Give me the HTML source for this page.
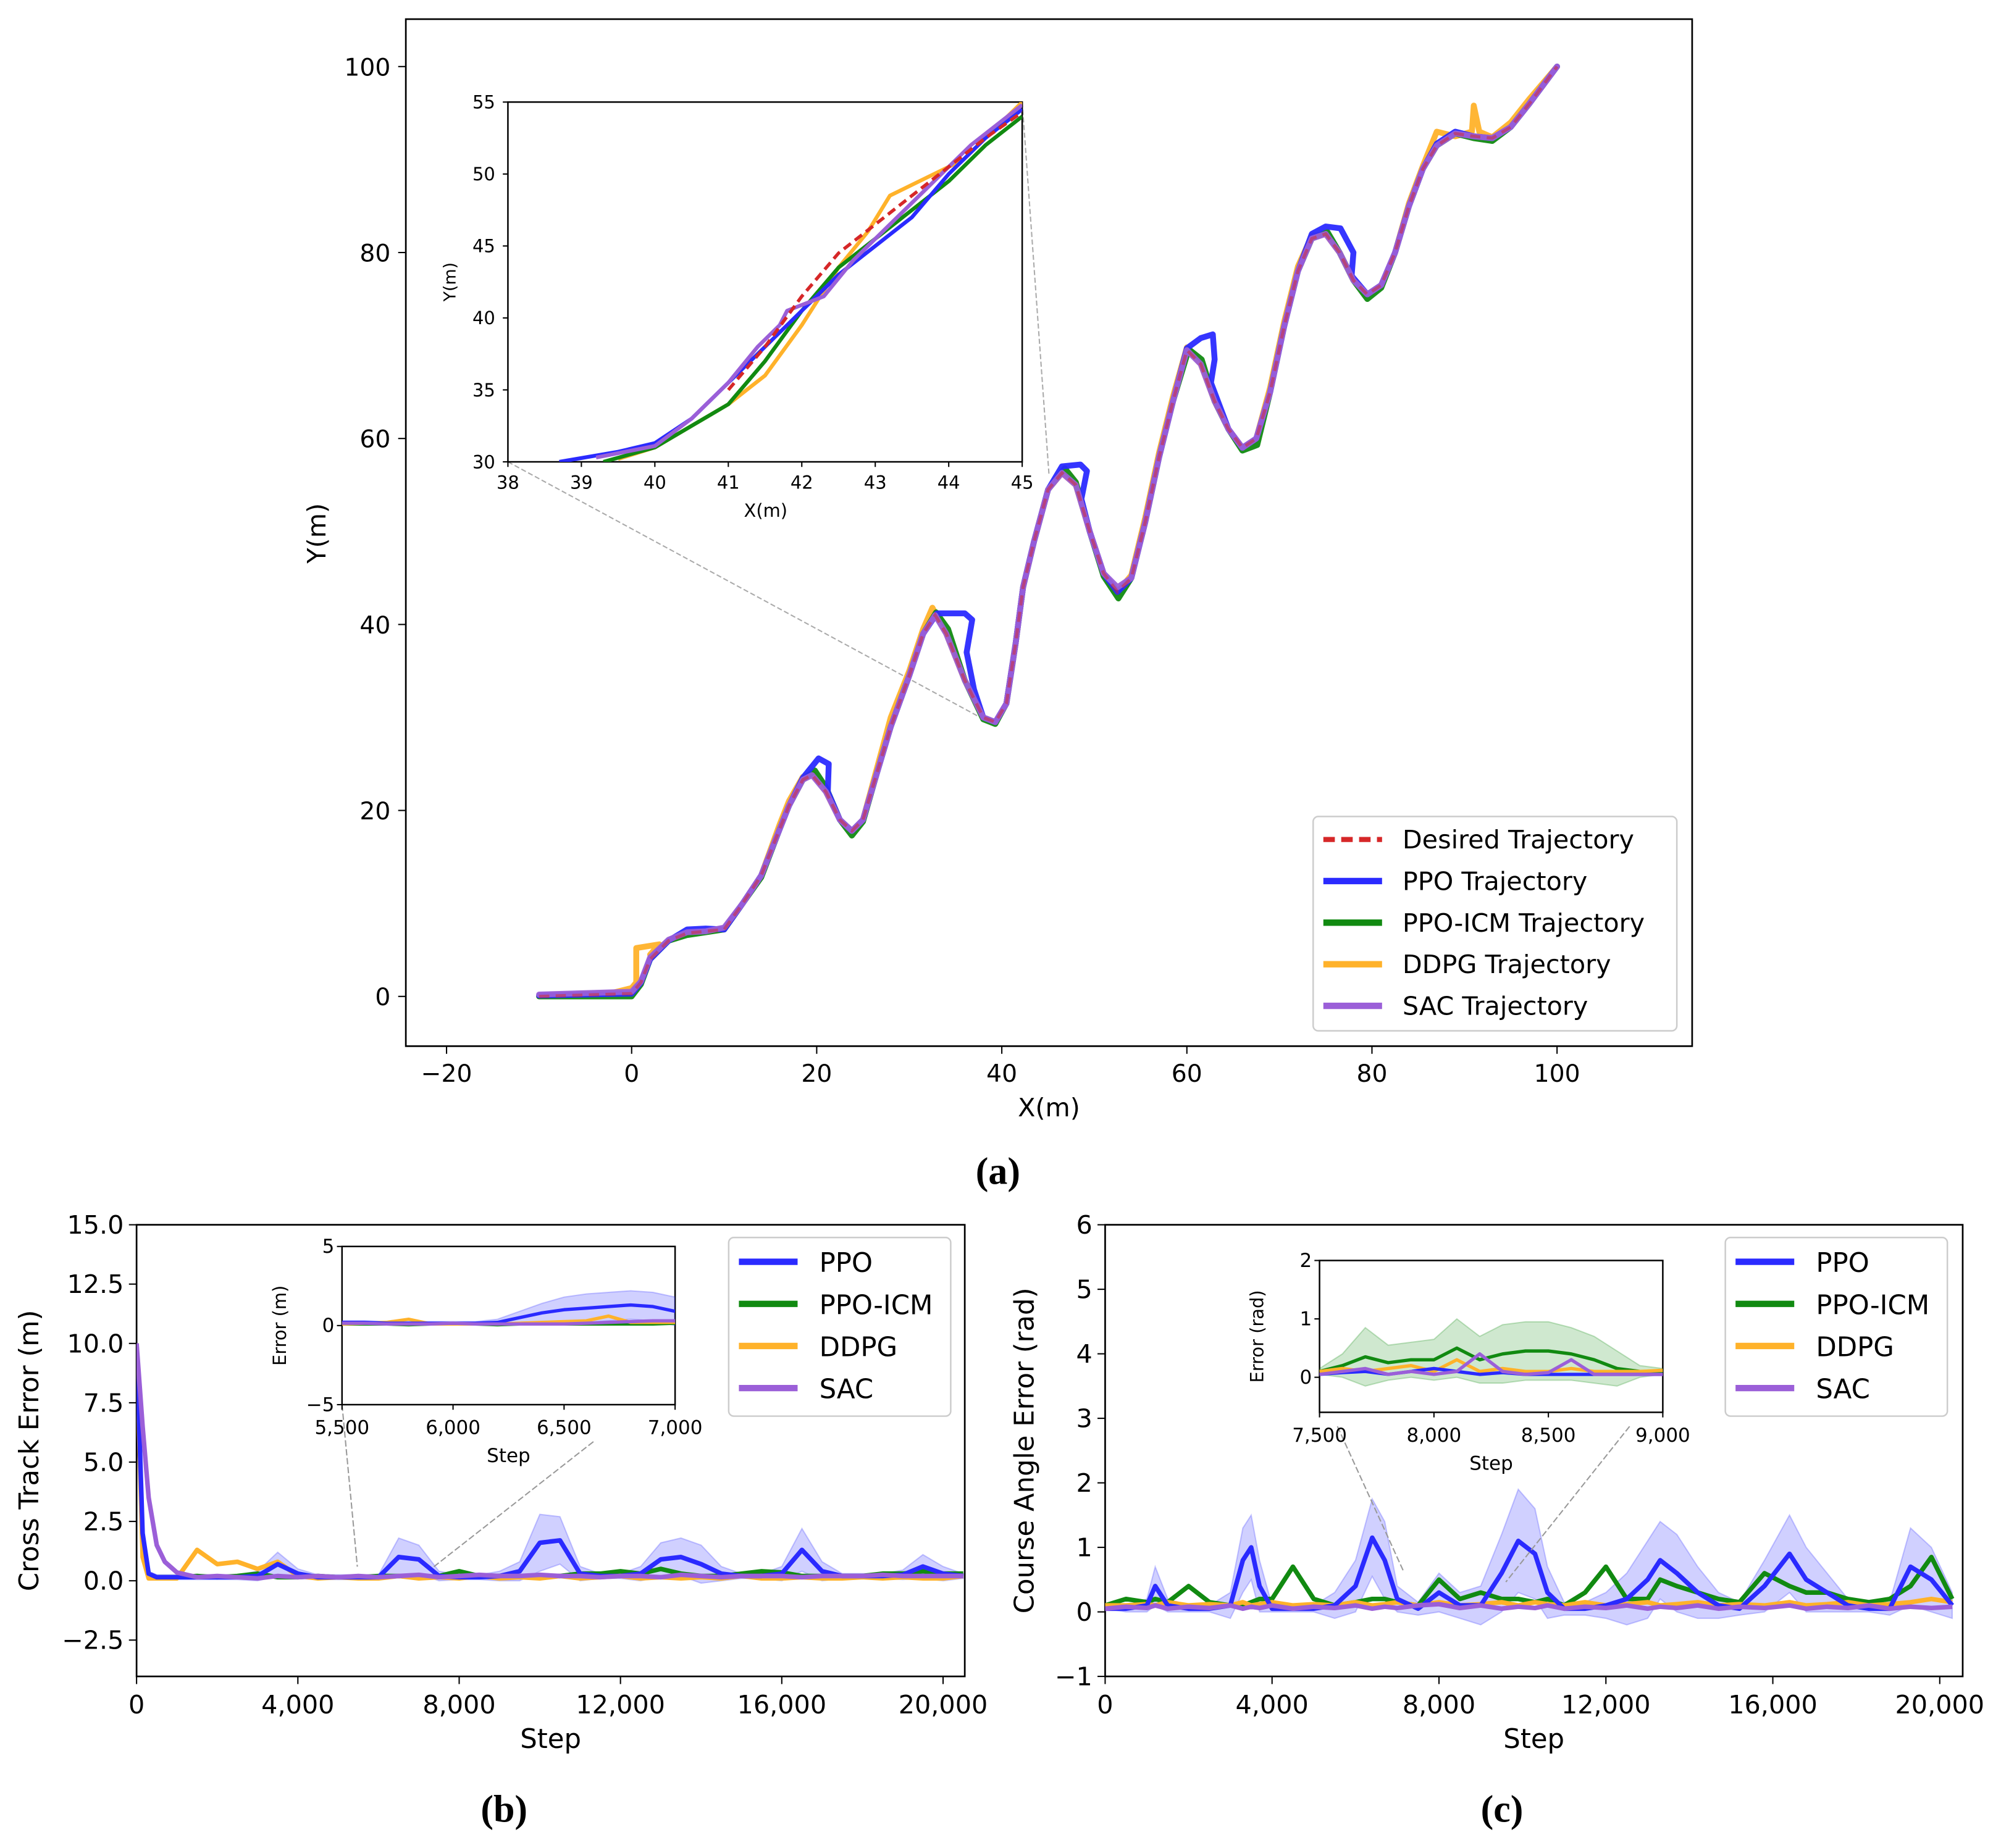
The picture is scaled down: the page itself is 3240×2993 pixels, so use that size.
<!DOCTYPE html>
<html><head><meta charset="utf-8"><style>
html,body{margin:0;padding:0;background:#fff;}
svg{display:block;}
text{font-family:"DejaVu Sans","Liberation Sans",sans-serif;fill:#000;}
text.cap{font-family:"Liberation Serif",serif;font-weight:bold;}
</style></head><body>
<svg id="fig" xmlns="http://www.w3.org/2000/svg" width="3240" height="2993" viewBox="0 0 1568 1448.5"></svg>
<script>
// ===== Panel (a) data =====
const desiredPts=[[-10,0],[0,0.3],[1,1.5],[2,4],[4,6],[6,6.8],[8,7],[10,7.2],[12,10],[14,13],[16,18],[17,20.5],[18.5,23.3],[19.5,23.8],[21,22],[22.5,19],[23.8,17.8],[25,19],[26.5,24],[28,29],[30,34.5],[31.5,39],[32.8,41],[34,39],[36,34],[38,30],[39.3,29.5],[40.5,31.5],[41.5,38],[42.3,44],[43.5,49],[45,54.5],[46.5,56.3],[48,55],[49.5,50],[51,45.5],[52.5,43.5],[54,45],[55.5,51],[57,58],[58.5,64],[60,69.5],[61.5,68],[63,64],[64.5,61],[66,59],[67.5,60],[69,65],[70.5,72],[72,78],[73.5,81.5],[75,82],[76.5,80],[78,77],[79.5,75.5],[81,76.5],[82.5,80],[84,85],[85.5,89],[87,91.5],[89,92.8],[91,92.5],[93,92.3],[95,93.5],[97,96],[100,100]];
const ppoPts=[[-10,0.1],[0,0.3],[1,1.5],[2,4],[4,6],[6,7.2],[8,7.3],[10,7.2],[12,10],[14,13],[16,18],[17,20.5],[18.5,23.5],[20.2,25.6],[21.3,25],[21.2,22],[22.5,19],[23.8,17.8],[25,19],[26.5,24],[28,29],[30,34.5],[31.5,39],[33,41.2],[36,41.2],[36.8,40.5],[36.2,37],[37,33],[38,30],[39.3,29.5],[40.5,31.5],[41.5,38],[42.3,44],[43.5,49],[45,54.5],[46.5,57],[48.5,57.2],[49.2,56.5],[48.6,53.5],[49.5,50],[51,45.5],[52.5,43.5],[54,45],[55.5,51],[57,58],[58.5,64],[60,69.7],[61.5,70.8],[62.8,71.2],[63,68.5],[62.6,66],[64.5,61],[66,59],[67.5,60],[69,65],[70.5,72],[72,78],[73.5,82],[75,82.8],[76.6,82.6],[78,80],[77.8,77.5],[79.5,75.5],[81,76.5],[82.5,80],[84,85],[85.5,89],[87,91.7],[89,93],[91,92.5],[93,92.3],[95,93.5],[97,96],[100,100]];
const icmPts=[[-10,0],[0,0],[1,1.3],[2,4],[4,6],[6,6.6],[8,6.9],[10,7.2],[12,10],[14,12.8],[16,18],[17,20.5],[18.5,23.3],[19.8,24.3],[21,22.5],[22.5,19],[23.8,17.3],[25,18.8],[26.5,24],[28,29],[30,34.5],[31.5,39],[32.9,41.3],[34.2,39.5],[36,34],[38,29.8],[39.3,29.3],[40.5,31.5],[41.5,38],[42.3,44],[43.5,49],[45,54.5],[46.8,56.8],[48,55.3],[49.5,50],[51,45.2],[52.6,42.8],[54,45],[55.5,51],[57,58],[58.5,64],[60.2,69.6],[61.6,68.5],[63,64],[64.5,61],[66,58.7],[67.6,59.3],[69,65],[70.5,72],[72,78],[73.5,81.5],[75.2,82.2],[76.5,80],[78,77],[79.5,75],[81,76.2],[82.5,80],[84,85],[85.5,89],[87,91.5],[89,92.8],[91,92.3],[93,92],[95,93.5],[97,96],[100,100]];
const ddpgPts=[[-10,0],[-2,0.4],[0,0.9],[0.5,1.5],[0.5,5.2],[3,5.6],[2,4.5],[4,6],[6,6.8],[8,7],[10,7.2],[12,10],[14,13],[16,18.5],[17,21],[18.5,23.6],[19.5,24],[21,22],[22.5,19],[23.8,17.8],[25,19],[26.5,24.5],[28,30],[30,35],[31.5,39.5],[32.5,41.8],[34,39],[36,34],[38,30],[39.3,29.5],[40.5,31.5],[41.5,38],[42.3,44],[43.5,49],[45,54.5],[46.5,56.3],[48,55],[49.5,50],[51,45.5],[52.5,43.5],[54,45.3],[55.5,51.5],[57,58.5],[58.5,64.5],[60,69.8],[61.5,68],[63,64],[64.5,61],[66,59],[67.5,60],[69,65.5],[70.5,72.5],[72,78.5],[73.5,81.8],[75,82],[76.5,80],[78,77],[79.5,75.5],[81,76.5],[82.5,80],[84,85.3],[85.5,89.3],[87,93],[89,92.5],[90.8,93],[91,95.8],[91.6,93],[93,92.4],[95,94],[97,96.5],[100,100]];
const sacPts=[[-10,0.2],[0,0.5],[1,1.6],[2,4.2],[4,6.1],[6,6.9],[8,7],[10,7.4],[12,10],[14,13],[16,18],[17,20.5],[18.5,23.3],[19.5,23.8],[21,22],[22.5,19],[23.8,17.8],[25,19],[26.5,24],[28,29],[30,34.5],[31.5,39],[32.8,41],[34,39],[36,34],[38,30],[39.3,29.5],[40.5,31.5],[41.5,38],[42.3,44],[43.5,49],[45,54.5],[46.5,56.3],[48,55],[49.5,50],[51,45.5],[52.5,44],[54,45],[55.5,51],[57,58],[58.5,64],[60,69.5],[61.5,68],[63,64],[64.5,61],[66,59],[67.5,60],[69,65],[70.5,72],[72,78],[73.5,81.5],[75,82],[76.5,80],[78,77],[79.5,75.5],[81,76.5],[82.5,80],[84,85],[85.5,89],[87,91.5],[89,92.8],[91,92.5],[93,92.3],[95,93.5],[97,96],[100,100]];
const zoomDesired=[[41,35],[41.5,38],[42,41.5],[42.5,44.5],[43,46.5],[43.5,48.5],[44,50.5],[44.5,52.5],[45,54.3]];
const zoomPpo=[[38.7,30],[39.5,30.7],[40,31.3],[40.5,33],[41,35.5],[41.5,38],[42,40.5],[42.5,43],[43,45],[43.5,47],[44,50],[44.5,52.5],[45,54.5]];
const zoomIcm=[[39.3,30],[40,31],[40.5,32.5],[41,34],[41.5,37],[42,40.5],[42.5,43.5],[43,45.5],[43.5,47.5],[44,49.5],[44.5,52],[45,54]];
const zoomDdpg=[[39.5,30.2],[40,31],[40.5,32.5],[41,34],[41.5,36],[42,39.5],[42.5,43.5],[42.9,46],[43.2,48.5],[43.6,49.5],[44.2,51],[44.7,53.5],[45,55]];
const zoomSac=[[39.2,30.3],[40,31.1],[40.5,33],[41,35.5],[41.4,38],[41.7,39.5],[41.8,40.5],[42.3,41.5],[42.7,44],[43,45.5],[43.3,47],[43.8,49.5],[44.3,52],[45,54.8]];
const mainXTicks=[-20,0,20,40,60,80,100];
const mainYTicks=[0,20,40,60,80,100];
const zoomXTicks=[38,39,40,41,42,43,44,45];
const zoomYTicks=[30,35,40,45,50,55];

// ===== Panel (b) data =====
const cteSteps=[0,150,300,500,700,1000,1500,2000,2500,3000,3500,4000,4500,5000,5500,6000,6500,7000,7500,8000,8500,9000,9500,10000,10500,11000,11500,12000,12500,13000,13500,14000,14500,15000,15500,16000,16500,17000,17500,18000,18500,19000,19500,20000,20500];
const ctePpo=[10,2,0.3,0.15,0.15,0.15,0.15,0.15,0.15,0.2,0.7,0.3,0.15,0.15,0.15,0.15,1.0,0.9,0.2,0.15,0.15,0.2,0.4,1.6,1.7,0.3,0.2,0.2,0.3,0.9,1.0,0.7,0.3,0.2,0.2,0.3,1.3,0.4,0.2,0.2,0.2,0.25,0.6,0.3,0.2];
const ctePpoSpread=[0,0.3,0.1,0.1,0.1,0.1,0.1,0.1,0.1,0.2,0.5,0.2,0.1,0.1,0.1,0.1,0.8,0.6,0.2,0.1,0.1,0.2,0.4,1.2,1.0,0.3,0.1,0.1,0.3,0.7,0.8,0.8,0.3,0.1,0.1,0.3,0.9,0.4,0.1,0.1,0.1,0.2,0.5,0.3,0.1];
const cteIcm=[10,1.5,0.2,0.15,0.15,0.15,0.2,0.15,0.2,0.3,0.15,0.15,0.2,0.15,0.15,0.2,0.2,0.15,0.2,0.4,0.2,0.2,0.15,0.2,0.2,0.3,0.3,0.4,0.3,0.5,0.3,0.2,0.2,0.3,0.4,0.35,0.2,0.2,0.2,0.2,0.3,0.3,0.4,0.3,0.3];
const cteDdpg=[10,1,0.1,0.1,0.1,0.1,1.3,0.7,0.8,0.5,0.8,0.2,0.1,0.15,0.1,0.1,0.2,0.1,0.15,0.1,0.2,0.1,0.15,0.1,0.2,0.1,0.15,0.2,0.1,0.15,0.1,0.15,0.1,0.2,0.1,0.1,0.15,0.1,0.1,0.15,0.1,0.15,0.1,0.1,0.2];
const cteSac=[10,6.5,3.5,1.5,0.8,0.35,0.15,0.2,0.15,0.1,0.2,0.15,0.2,0.15,0.2,0.15,0.2,0.25,0.15,0.2,0.25,0.2,0.2,0.25,0.2,0.2,0.15,0.2,0.2,0.15,0.25,0.2,0.15,0.2,0.2,0.2,0.15,0.2,0.2,0.2,0.25,0.2,0.2,0.2,0.2];
const cteZoomSteps=[5500,5600,5700,5800,5900,6000,6100,6200,6300,6400,6500,6600,6700,6800,6900,7000];
const cteZoomPpo=[0.2,0.2,0.15,0.15,0.15,0.15,0.15,0.2,0.5,0.8,1.0,1.1,1.2,1.3,1.2,0.9];
const cteZoomPpoSpread=[0.1,0.1,0.1,0.1,0.1,0.1,0.1,0.2,0.4,0.6,0.8,0.9,0.9,0.9,0.9,0.9];
const cteZoomIcm=[0.1,0.1,0.1,0.05,0.1,0.1,0.1,0.05,0.1,0.1,0.1,0.1,0.1,0.1,0.1,0.15];
const cteZoomDdpg=[0.1,0.15,0.2,0.4,0.1,0.1,0.1,0.1,0.15,0.2,0.25,0.3,0.6,0.2,0.2,0.2];
const cteZoomSac=[0.15,0.15,0.1,0.1,0.1,0.15,0.1,0.1,0.1,0.1,0.1,0.15,0.2,0.25,0.3,0.3];
const cteYTicks=[-2.5,0,2.5,5,7.5,10,12.5,15];
const stepTicks=[0,4000,8000,12000,16000,20000];

// ===== Panel (c) data =====
const caeSteps=[0,500,1000,1200,1500,2000,2500,3000,3300,3500,3700,4000,4500,5000,5500,6000,6400,6700,7000,7500,8000,8500,9000,9500,9900,10300,10600,11000,11500,12000,12500,13000,13300,13700,14200,14700,15200,15800,16400,16800,17300,17800,18300,18800,19300,19800,20300];
const caePpo=[0.05,0.05,0.1,0.4,0.1,0.05,0.05,0.1,0.8,1.0,0.4,0.05,0.05,0.05,0.1,0.4,1.15,0.8,0.2,0.05,0.3,0.1,0.1,0.6,1.1,0.9,0.3,0.05,0.05,0.1,0.2,0.5,0.8,0.6,0.3,0.1,0.05,0.4,0.9,0.5,0.3,0.1,0.05,0.05,0.7,0.5,0.1];
const caePpoSpread=[0,0.05,0.1,0.3,0.1,0.05,0.05,0.2,0.5,0.5,0.4,0.05,0.05,0.05,0.2,0.4,0.6,0.6,0.2,0.1,0.3,0.2,0.3,0.6,0.8,0.7,0.4,0.1,0.1,0.2,0.4,0.6,0.6,0.6,0.4,0.2,0.1,0.4,0.6,0.5,0.3,0.1,0.05,0.1,0.6,0.5,0.2];
const caeIcm=[0.1,0.2,0.15,0.2,0.15,0.4,0.15,0.1,0.1,0.15,0.2,0.2,0.7,0.2,0.1,0.15,0.2,0.2,0.15,0.1,0.5,0.2,0.3,0.2,0.2,0.15,0.2,0.1,0.3,0.7,0.2,0.2,0.5,0.4,0.3,0.2,0.15,0.6,0.4,0.3,0.3,0.2,0.15,0.2,0.4,0.85,0.2];
const caeDdpg=[0.1,0.1,0.12,0.1,0.15,0.1,0.12,0.1,0.15,0.1,0.12,0.15,0.1,0.12,0.1,0.15,0.1,0.12,0.15,0.1,0.15,0.1,0.12,0.15,0.1,0.15,0.12,0.1,0.15,0.1,0.12,0.15,0.1,0.12,0.15,0.1,0.12,0.1,0.15,0.1,0.12,0.15,0.1,0.12,0.15,0.2,0.15];
const caeSac=[0.05,0.08,0.06,0.1,0.05,0.08,0.06,0.1,0.05,0.08,0.06,0.1,0.05,0.08,0.06,0.1,0.05,0.08,0.06,0.1,0.12,0.06,0.1,0.05,0.08,0.06,0.1,0.05,0.08,0.06,0.1,0.05,0.08,0.06,0.1,0.05,0.08,0.06,0.1,0.05,0.08,0.06,0.1,0.05,0.08,0.06,0.08];
const caeZoomSteps=[7500,7600,7700,7800,7900,8000,8100,8200,8300,8400,8500,8600,8700,8800,8900,9000];
const caeZoomPpo=[0.05,0.08,0.1,0.05,0.1,0.15,0.1,0.05,0.08,0.05,0.05,0.05,0.05,0.05,0.05,0.05];
const caeZoomIcm=[0.1,0.2,0.35,0.25,0.3,0.3,0.5,0.3,0.4,0.45,0.45,0.4,0.3,0.15,0.1,0.1];
const caeZoomIcmSpread=[0.05,0.2,0.5,0.3,0.3,0.35,0.5,0.4,0.5,0.5,0.5,0.45,0.4,0.3,0.1,0.05];
const caeZoomDdpg=[0.1,0.15,0.1,0.15,0.2,0.1,0.3,0.1,0.15,0.1,0.1,0.15,0.1,0.1,0.1,0.12];
const caeZoomSac=[0.05,0.1,0.15,0.05,0.1,0.05,0.1,0.4,0.1,0.05,0.08,0.3,0.05,0.05,0.05,0.05];
const caeYTicks=[-1,0,1,2,3,4,5,6];
const caeZoomYTicks=[0,1,2];

const C={desired:'#d62728',ppo:'#2a2aff',icm:'#118a11',ddpg:'#ffb22a',sac:'#9b5fd8'};
const NS='http://www.w3.org/2000/svg';
const svg=document.getElementById('fig');
function mk(tag,attrs,parent){const e=document.createElementNS(NS,tag);for(const k in attrs)e.setAttribute(k,attrs[k]);(parent||svg).appendChild(e);return e;}
function lin(d0,d1,p0,p1){return v=>p0+(v-d0)*(p1-p0)/(d1-d0);}
function pathFromPts(pts,sx,sy){return pts.map((p,i)=>(i?'L':'M')+sx(p[0]).toFixed(2)+','+sy(p[1]).toFixed(2)).join('');}
function pathXY(xs,ys,sx,sy){return xs.map((x,i)=>(i?'L':'M')+sx(x).toFixed(2)+','+sy(ys[i]).toFixed(2)).join('');}
function bandPath(xs,ys,sp,sx,sy){let d=xs.map((x,i)=>(i?'L':'M')+sx(x).toFixed(2)+','+sy(ys[i]+sp[i]).toFixed(2)).join('');for(let i=xs.length-1;i>=0;i--)d+='L'+sx(xs[i]).toFixed(2)+','+sy(ys[i]-sp[i]).toFixed(2);return d+'Z';}
function txt(x,y,s,size,anchor,parent,extra){const t=mk('text',Object.assign({x:x,y:y,'font-size':size,'text-anchor':anchor||'middle'},extra||{}),parent);t.textContent=s;return t;}
function fmt(v){return v.toLocaleString('en-US');}

// ---------- Panel (a) ----------
const gA=mk('g',{});


const ax=lin(-24.4,114.6,318,1326), ay=lin(-5.35,105.1,820,15);
mk('rect',{x:318,y:15,width:1008,height:805,fill:'none',stroke:'#000','stroke-width':1.3},gA);
mainXTicks.forEach(v=>{mk('line',{x1:ax(v),x2:ax(v),y1:820,y2:826,stroke:'#000'},gA);const t=txt(ax(v),848,(v<0?'\u2212'+(-v):v),19,'middle',gA);});
mainYTicks.forEach(v=>{mk('line',{x1:312,x2:318,y1:ay(v),y2:ay(v),stroke:'#000'},gA);const t=txt(306,ay(v)+7,v,19,'end',gA);});
const xtA=txt(822,875,'X(m)',20,'middle',gA);
const ytA=txt(255,418,'Y(m)',20,'middle',gA,{transform:'rotate(-90 255 418)'});
mk('line',{x1:398,y1:362,x2:775,y2:566,stroke:'#aaa','stroke-width':1,'stroke-dasharray':'4,2'},gA);
mk('line',{x1:801,y1:80,x2:822,y2:372,stroke:'#aaa','stroke-width':1,'stroke-dasharray':'4,2'},gA);
[[ddpgPts,'ddpg','ddpg-trajectory'],[icmPts,'icm','ppo-icm-trajectory'],[ppoPts,'ppo','ppo-trajectory'],[sacPts,'sac','sac-trajectory']].forEach(([pts,c,n])=>{const p=mk('path',{d:pathFromPts(pts,ax,ay),fill:'none',stroke:C[c],'stroke-width':4.6,'stroke-linejoin':'round','stroke-linecap':'round','stroke-opacity':0.95},gA);});
const dp=mk('path',{d:pathFromPts(desiredPts,ax,ay),fill:'none',stroke:C.desired,'stroke-width':2.5,'stroke-dasharray':'8,5','stroke-opacity':0.5},gA);

const gAi=mk('g',{},gA);


const ix=lin(38,45,398,801), iy=lin(30,55,362,80);
mk('rect',{x:398,y:80,width:403,height:282,fill:'#fff',stroke:'#000','stroke-width':1.2},gAi);
mk('clipPath',{id:'cpa'},gAi);mk('rect',{x:398,y:80,width:403,height:282},document.getElementById('cpa'));
const gAic=mk('g',{'clip-path':'url(#cpa)'},gAi);
[[zoomDdpg,'ddpg'],[zoomIcm,'icm'],[zoomPpo,'ppo'],[zoomSac,'sac']].forEach(([pts,c])=>{const p=mk('path',{d:pathFromPts(pts,ix,iy),fill:'none',stroke:C[c],'stroke-width':3,'stroke-linejoin':'round'},gAic);});
const zd=mk('path',{d:pathFromPts(zoomDesired,ix,iy),fill:'none',stroke:C.desired,'stroke-width':2.6,'stroke-dasharray':'7,4'},gAic);
zoomXTicks.forEach(v=>{mk('line',{x1:ix(v),x2:ix(v),y1:362,y2:366,stroke:'#000'},gAi);txt(ix(v),383,v,14,'middle',gAi);});
zoomYTicks.forEach(v=>{mk('line',{x1:394,x2:398,y1:iy(v),y2:iy(v),stroke:'#000'},gAi);txt(388,iy(v)+5,v,14,'end',gAi);});
txt(600,405,'X(m)',14,'middle',gAi);
txt(357,221,'Y(m)',13,'middle',gAi,{transform:'rotate(-90 357 221)'});
const gL=mk('g',{},gA);


mk('rect',{x:1029,y:640,width:285,height:168,rx:4,fill:'#fff',stroke:'#ccc','stroke-width':1.2},gL);
[['Desired Trajectory','desired'],['PPO Trajectory','ppo'],['PPO-ICM Trajectory','icm'],['DDPG Trajectory','ddpg'],['SAC Trajectory','sac']].forEach(([s,c],i)=>{const y=658+i*32.6;mk('line',{x1:1037,x2:1083,y1:y,y2:y,stroke:C[c],'stroke-width':c==='desired'?4:5,'stroke-dasharray':c==='desired'?'9,5':'none'},gL);const t=txt(1099,y+7,s,20,'start',gL);});
const capA=txt(782,928,'(a)',30,'middle',svg,{'class':'cap'});

function tsPanel(o){
  const g=mk('g',{});
  
  
  const sx=lin(0,o.xmax,o.x0,o.x1), sy=lin(o.ymin,o.ymax,o.y1,o.y0);
  mk('rect',{x:o.x0,y:o.y0,width:o.x1-o.x0,height:o.y1-o.y0,fill:'none',stroke:'#000','stroke-width':1.3},g);
  const cid='cp'+o.name;mk('clipPath',{id:cid},g);mk('rect',{x:o.x0,y:o.y0,width:o.x1-o.x0,height:o.y1-o.y0},document.getElementById(cid));
  const gc=mk('g',{'clip-path':'url(#'+cid+')'},g);
  const b=mk('path',{d:bandPath(o.steps,o.ppo,o.spread,sx,sy),fill:C.ppo,'fill-opacity':0.22,stroke:C.ppo,'stroke-opacity':0.25},gc);
  
  [['icm',o.icm],['ddpg',o.ddpg],['ppo',o.ppo],['sac',o.sac]].forEach(([c,ys])=>{const p=mk('path',{d:pathXY(o.steps,ys,sx,sy),fill:'none',stroke:C[c],'stroke-width':3.6,'stroke-linejoin':'round'},gc);});
  stepTicks.forEach(v=>{mk('line',{x1:sx(v),x2:sx(v),y1:o.y1,y2:o.y1+6,stroke:'#000'},g);const t=txt(sx(v),o.y1+29,fmt(v),20,'middle',g);});
  o.yticks.forEach(v=>{mk('line',{x1:o.x0-6,x2:o.x0,y1:sy(v),y2:sy(v),stroke:'#000'},g);const t=txt(o.x0-10,sy(v)+7,(v<0?'\u2212'+(-v).toFixed(o.dec):v.toFixed(o.dec)),20,'end',g);});
  const xt=txt((o.x0+o.x1)/2,o.y1+56,'Step',21,'middle',g);
  const ym=(o.y0+o.y1)/2;const yt=txt(o.ylx,ym,o.ylabel,21,'middle',g,{transform:'rotate(-90 '+o.ylx+' '+ym+')'});
  o.conn.forEach(c=>mk('line',{x1:c[0],y1:c[1],x2:c[2],y2:c[3],stroke:'#999','stroke-width':1,'stroke-dasharray':'5,2'},g));
  const I=o.inset;const gi=mk('g',{},g);
  
  
  const ix=lin(I.xmin,I.xmax,I.x0,I.x1), iy=lin(I.ymin,I.ymax,I.y1,I.y0);
  mk('rect',{x:I.x0,y:I.y0,width:I.x1-I.x0,height:I.y1-I.y0,fill:'#fff',stroke:'#000','stroke-width':1.2},gi);
  const cid2='ci'+o.name;mk('clipPath',{id:cid2},gi);mk('rect',{x:I.x0,y:I.y0,width:I.x1-I.x0,height:I.y1-I.y0},document.getElementById(cid2));
  const gic=mk('g',{'clip-path':'url(#'+cid2+')'},gi);
  if(I.spread){mk('path',{d:bandPath(I.steps,I.ppo,I.spread,ix,iy),fill:C.ppo,'fill-opacity':0.22,stroke:C.ppo,'stroke-opacity':0.25},gic);}
  if(I.icmSpread){mk('path',{d:bandPath(I.steps,I.icm,I.icmSpread,ix,iy),fill:C.icm,'fill-opacity':0.2,stroke:C.icm,'stroke-opacity':0.25},gic);}
  [['icm',I.icm],['ddpg',I.ddpg],['ppo',I.ppo],['sac',I.sac]].forEach(([c,ys])=>{const p=mk('path',{d:pathXY(I.steps,ys,ix,iy),fill:'none',stroke:C[c],'stroke-width':2.6,'stroke-linejoin':'round'},gic);});
  I.xticks.forEach(v=>{mk('line',{x1:ix(v),x2:ix(v),y1:I.y1,y2:I.y1+4,stroke:'#000'},gi);txt(ix(v),I.y1+23,fmt(v),15,'middle',gi);});
  I.yticks.forEach(v=>{mk('line',{x1:I.x0-4,x2:I.x0,y1:iy(v),y2:iy(v),stroke:'#000'},gi);txt(I.x0-6,iy(v)+5,(v<0?'\u2212'+(-v):v),15,'end',gi);});
  txt((I.x0+I.x1)/2,I.y1+45,'Step',15,'middle',gi);
  const iym=(I.y0+I.y1)/2;txt(I.x0-44,iym,I.ylabel,14,'middle',gi,{transform:'rotate(-90 '+(I.x0-44)+' '+iym+')'});
  const L=o.legend;const gl=mk('g',{},g);
  
  
  mk('rect',{x:L.x,y:L.y,width:174,height:140,rx:4,fill:'#fff',stroke:'#ccc','stroke-width':1.2},gl);
  [['PPO','ppo'],['PPO-ICM','icm'],['DDPG','ddpg'],['SAC','sac']].forEach(([s,c],i)=>{const y=L.y+19+i*33;mk('line',{x1:L.x+8,x2:L.x+54,y1:y,y2:y,stroke:C[c],'stroke-width':5},gl);const t=txt(L.x+71,y+8,s,21,'start',gl);});
}
tsPanel({name:'cross-track-chart',x0:107,x1:756,y0:960,y1:1314,xmax:20538,ymin:-4.03,ymax:15,yticks:cteYTicks,dec:1,ylx:30,ylabel:'Cross Track Error (m)',
 steps:cteSteps,ppo:ctePpo,spread:ctePpoSpread,icm:cteIcm,ddpg:cteDdpg,sac:cteSac,
 conn:[[268,1101,280,1228],[465,1130,340,1228]],
 legend:{x:571,y:970},
 inset:{x0:268,x1:529,y0:977,y1:1101,xmin:5500,xmax:7000,ymin:-5,ymax:5,xticks:[5500,6000,6500,7000],yticks:[-5,0,5],ylabel:'Error (m)',
  steps:cteZoomSteps,ppo:cteZoomPpo,spread:cteZoomPpoSpread,icm:cteZoomIcm,ddpg:cteZoomDdpg,sac:cteZoomSac}});
tsPanel({name:'course-angle-chart',x0:866,x1:1538,y0:960,y1:1314,xmax:20550,ymin:-1,ymax:6,yticks:caeYTicks,dec:0,ylx:810,ylabel:'Course Angle Error (rad)',
 steps:caeSteps,ppo:caePpo,spread:caePpoSpread,icm:caeIcm,ddpg:caeDdpg,sac:caeSac,
 conn:[[1048,1118,1100,1232],[1277,1118,1180,1240]],
 legend:{x:1352,y:970},
 inset:{x0:1034,x1:1303,y0:988,y1:1107,xmin:7500,xmax:9000,ymin:-0.6,ymax:2,xticks:[7500,8000,8500,9000],yticks:caeZoomYTicks,ylabel:'Error (rad)',
  steps:caeZoomSteps,ppo:caeZoomPpo,icm:caeZoomIcm,icmSpread:caeZoomIcmSpread,ddpg:caeZoomDdpg,sac:caeZoomSac}});
const capB=txt(395,1428,'(b)',30,'middle',svg,{'class':'cap'});
const capC=txt(1177,1428,'(c)',30,'middle',svg,{'class':'cap'});
</script>
</body></html>
